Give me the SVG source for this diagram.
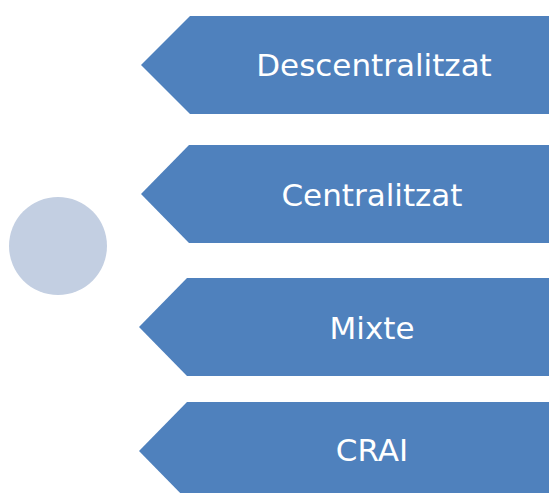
<svg xmlns="http://www.w3.org/2000/svg" width="549" height="493" viewBox="0 0 549 493">
<style>
.arrow{fill:#4f81bd}
.lbl{fill:#ffffff;font-family:"DejaVu Sans",Verdana,sans-serif;font-size:31px;text-anchor:middle}
</style>
<rect width="549" height="493" fill="#ffffff"/>
<g id="circle"><circle cx="58" cy="246" r="49" fill="#c3cfe2"/></g>
<g id="n1"><polygon class="arrow" points="190,16 560,16 560,114 190,114 141,65"/><text class="lbl" x="374" y="76">Descentralitzat</text></g>
<g id="n2"><polygon class="arrow" points="189,145 560,145 560,243 189,243 141,194"/><text class="lbl" x="372" y="206">Centralitzat</text></g>
<g id="n3"><polygon class="arrow" points="187,278 560,278 560,376 187,376 139,327"/><text class="lbl" x="372" y="339">Mixte</text></g>
<g id="n4"><polygon class="arrow" points="187,402 560,402 560,500 187,500 139,451"/><text class="lbl" x="372" y="461">CRAI</text></g>
<g id="connectors"></g>
</svg>
